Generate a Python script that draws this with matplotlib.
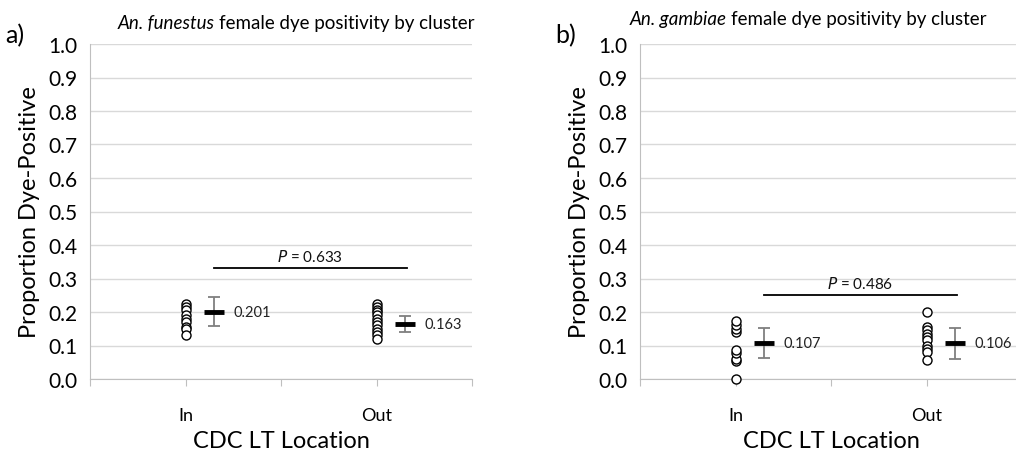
import numpy as np
import matplotlib.pyplot as plt
from matplotlib import transforms

plt.rcParams['font.family'] = ['Lato', 'DejaVu Sans']

# data
locations = ['In', 'Out']
loc_x = [1, 3]
fun_in = [0.225, 0.215, 0.205, 0.19, 0.18, 0.17, 0.155, 0.15, 0.13]
fun_out = [0.225, 0.215, 0.205, 0.20, 0.19, 0.18, 0.17, 0.16, 0.15, 0.14, 0.13, 0.12]
fun_mean = [0.201, 0.163]
fun_lo = [0.157, 0.139]
fun_hi = [0.244, 0.188]
fun_p = 0.633
gam_in = [0.0, 0.055, 0.06, 0.078, 0.087, 0.14, 0.15, 0.16, 0.172]
gam_out = [0.2, 0.155, 0.145, 0.135, 0.125, 0.115, 0.10, 0.09, 0.08, 0.057]
gam_mean = [0.107, 0.106]
gam_lo = [0.063, 0.06]
gam_hi = [0.152, 0.153]
gam_p = 0.486

fig = plt.figure(figsize=(10.16, 4.56), dpi=100)
W, H = 1016, 456


def panel(left, pts, means, lo, hi, pval, pline_y, letter):
    ax = fig.add_axes([left / W, 1 - 380 / H, 382 / W, 335 / H])
    ax.set_xlim(0, 4)
    ax.set_ylim(0, 1.0)
    ax.set_yticks(np.arange(0, 1.01, 0.1))
    ax.set_yticklabels(['%.1f' % v for v in np.arange(0, 1.01, 0.1)], fontsize=15)
    ax.tick_params(axis='y', length=0, pad=9)
    ax.set_xticks([0, 1, 2, 3, 4])
    ax.set_xticklabels([])
    ax.tick_params(axis='x', length=5, color='#bfbfbf', direction='out')
    ax.grid(axis='y', color='#d9d9d9', lw=1)
    ax.set_axisbelow(True)
    for s in ['top', 'right']:
        ax.spines[s].set_visible(False)
    for s in ['left', 'bottom']:
        ax.spines[s].set_color('#bfbfbf')
    ax.patch.set_alpha(0)

    for xv, ys in zip(loc_x, pts):
        ax.plot([xv] * len(ys), ys, 'o', mfc='white', mec='black', ms=6.5, mew=1,
                zorder=3, clip_on=False)
    mx = [xv + 0.3 for xv in loc_x]
    ax.errorbar(mx, means, yerr=[np.subtract(means, lo), np.subtract(hi, means)],
                fmt='none', ecolor='#7f7f7f', elinewidth=1.3, capsize=4, capthick=1.3, zorder=3)
    ax.plot(mx, means, '_', color='black', ms=14, mew=3.5, zorder=4)
    for xv, m in zip(mx, means):
        ax.text(xv + 0.2, m, '%.3f' % m, fontsize=10.5, va='center', ha='left',
                color='#222222', clip_on=False)

    ax.plot([1.3, 3.32], [pline_y, pline_y], color='black', lw=1.3)
    ax.text(2.3, pline_y + 0.012, '$\\it{P}$ = %.3f' % pval, fontsize=11,
            ha='center', va='bottom', color='#111111')

    trans = transforms.blended_transform_factory(ax.transData, fig.transFigure)
    for xv, lab in zip(loc_x, locations):
        ax.text(xv, 1 - 416 / H, lab, transform=trans, fontsize=13, ha='center', va='center')
    ax.text(2, 1 - 442 / H, 'CDC LT Location', transform=trans, fontsize=17,
            ha='center', va='center')
    ax.set_ylabel('Proportion Dye-Positive', fontsize=17, labelpad=6)

    fig.text((left - 85) / W, 1 - 36 / H, letter, fontsize=18, ha='left', va='center')
    return ax


ax1 = panel(90, [fun_in, fun_out], fun_mean, fun_lo, fun_hi, fun_p, 0.331, 'a)')
ax2 = panel(640, [gam_in, gam_out], gam_mean, gam_lo, gam_hi, gam_p, 0.25, 'b)')

# titles with italic species name
r = fig.canvas.get_renderer()
for x0, y0, sp in [(118, 24, 'An. funestus'), (630, 19, 'An. gambiae')]:
    t1 = fig.text(x0 / W, 1 - y0 / H, sp, fontsize=13.5, style='italic', ha='left', va='center')
    bb = t1.get_window_extent(renderer=r)
    fig.text((bb.x1 + 4) / W, 1 - y0 / H, 'female dye positivity by cluster', fontsize=13.5,
             ha='left', va='center')

fig.savefig('out.png', dpi=100)
